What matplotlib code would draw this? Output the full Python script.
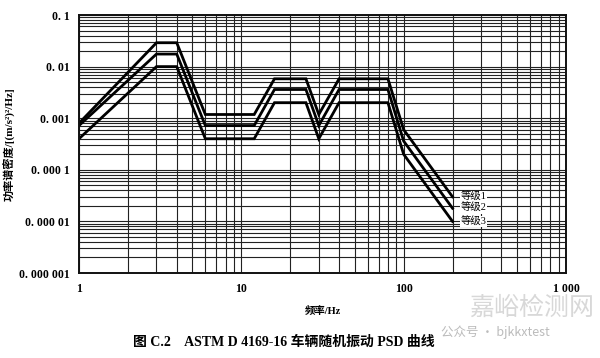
import matplotlib
matplotlib.use("Agg")
import matplotlib.pyplot as plt
from matplotlib.ticker import LogLocator, FixedLocator, NullFormatter

# ASTM D 4169-16 truck random vibration PSD, three assurance levels
freqs = [1, 3, 4, 6, 12, 16, 25, 30, 40, 80, 100, 200]
level1 = [0.0008, 0.029, 0.029, 0.00118, 0.00118, 0.0058, 0.0058, 0.00118, 0.0058, 0.0058, 0.0006, 0.00003]
level2 = [0.00072, 0.0175, 0.0175, 0.00072, 0.00072, 0.0036, 0.0036, 0.00072, 0.0036, 0.0036, 0.00036, 0.000018]
level3 = [0.0004, 0.01, 0.01, 0.0004, 0.0004, 0.002, 0.002, 0.0004, 0.002, 0.002, 0.0002, 0.00001]
series_labels = ["等级1", "等级2", "等级3"]

xticks = [1, 10, 100, 1000]
xticklabels = ["1", "10", "100", "1 000"]
yticks = [1e-6, 1e-5, 1e-4, 1e-3, 1e-2, 1e-1]
yticklabels = ["0. 000 001", "0. 000 01", "0. 000 1", "0. 001", "0. 01", "0. 1"]

serif = ["Liberation Serif", "Noto Sans CJK SC"]
cjk = ["Noto Sans CJK SC", "DejaVu Sans"]

fig = plt.figure(figsize=(6, 3.58), dpi=100)
ax = fig.add_axes([0.1317, 0.2374, 0.8116, 0.7207])
ax.set_xscale("log")
ax.set_yscale("log")
ax.set_xlim(1, 1000)
ax.set_ylim(1e-6, 0.1)

ax.xaxis.set_minor_locator(LogLocator(base=10, subs=range(2, 10), numticks=20))
ax.yaxis.set_minor_locator(LogLocator(base=10, subs=range(2, 10), numticks=20))
ax.xaxis.set_minor_formatter(NullFormatter())
ax.yaxis.set_minor_formatter(NullFormatter())
ax.grid(True, which="both", color="#222222", linewidth=0.8)
ax.set_axisbelow(True)
ax.tick_params(which="both", length=0, pad=7)

ax.xaxis.set_major_locator(FixedLocator(xticks))
ax.set_xticklabels(xticklabels, family=serif, fontsize=8.5, fontweight="bold")
ax.yaxis.set_major_locator(FixedLocator(yticks))
ax.set_yticklabels(yticklabels, family=serif, fontsize=8.5, fontweight="bold")

for s in ax.spines.values():
    s.set_linewidth(1.4)
    s.set_color("#111111")

for ys, lab in zip([level1, level2, level3], series_labels):
    ax.plot(freqs, ys, color="black", linewidth=2.0, solid_joinstyle="miter")
    ax.text(225, ys[-1], lab, family=serif, fontsize=7.5, va="center", ha="left",
            bbox=dict(facecolor="white", edgecolor="none", pad=0.5))

ax.set_xlabel("频率/Hz", family=serif, fontsize=7.5, fontweight="bold", labelpad=8)
ax.set_ylabel("功率谱密度/[(m/s²)²/Hz]", family=serif, fontsize=8, fontweight="bold", labelpad=2)

fig.text(0.222, 0.045, "图 C.2    ASTM D 4169-16 车辆随机振动 PSD 曲线", family=serif,
         fontsize=10, fontweight="bold", ha="left", va="center")

# watermark
fig.text(0.99, 0.14, "嘉峪检测网", family=cjk, fontsize=18, color="#d8d8d8",
         ha="right", va="center")
fig.text(0.735, 0.072, "公众号 · bjkkxtest", family=cjk, fontsize=9, color="#bbbbbb",
         ha="left", va="center")

fig.savefig("out.png", dpi=100)
